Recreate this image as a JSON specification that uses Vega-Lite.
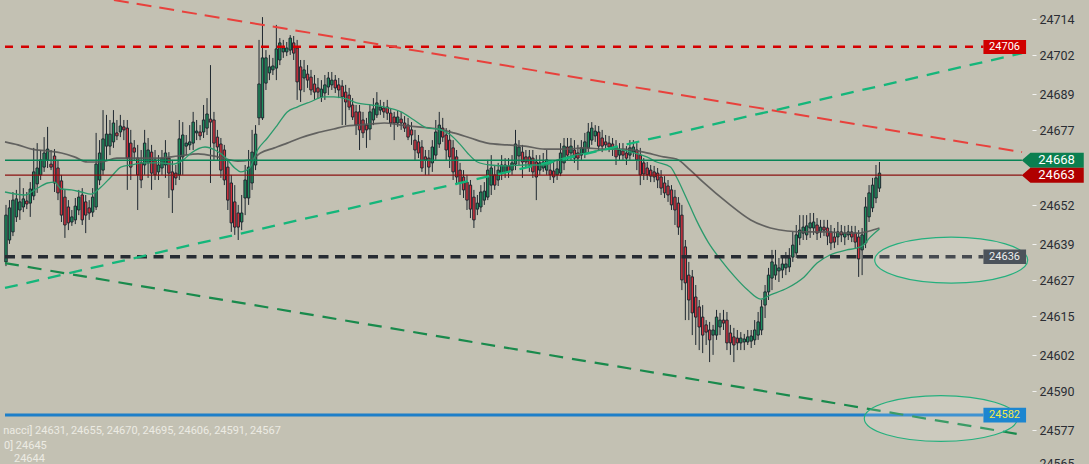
{
"$schema": "https://vega.github.io/schema/vega-lite/v6.json",
"width": 1032, "height": 464,
"autosize": {"type": "none"},
"padding": {"left": 0, "top": 0, "right": 57, "bottom": 0},
"background": "#c3c1b3",
"config": {"view": {"stroke": null}, "font": "Roboto"},
"resolve": {"axis": {"x": "independent", "y": "independent"}},
"datasets": {
"candles": [
{"i":1,"o":24633.2,"h":24652.2,"l":24631.8,"c":24648.8},
{"i":2,"o":24640.5,"h":24653.8,"l":24639.2,"c":24651.2},
{"i":3,"o":24643.2,"h":24656.5,"l":24641.8,"c":24653.8},
{"i":4,"o":24648.2,"h":24657.2,"l":24646.5,"c":24654.2},
{"i":5,"o":24650.5,"h":24661.2,"l":24647.2,"c":24653.2},
{"i":6,"o":24651.5,"h":24657.8,"l":24649.8,"c":24654.2},
{"i":7,"o":24653.5,"h":24656.5,"l":24650.8,"c":24652.5},
{"i":8,"o":24652.8,"h":24659.8,"l":24648.2,"c":24657.5},
{"i":9,"o":24655.2,"h":24671.2,"l":24653.8,"c":24663.2},
{"i":10,"o":24659.2,"h":24672.8,"l":24656.2,"c":24664.5},
{"i":11,"o":24662.2,"h":24670.5,"l":24660.5,"c":24667.2},
{"i":12,"o":24664.8,"h":24674.8,"l":24663.2,"c":24669.5},
{"i":13,"o":24667.2,"h":24678.2,"l":24664.5,"c":24670.8},
{"i":14,"o":24665.8,"h":24670.5,"l":24663.8,"c":24664.8},
{"i":15,"o":24668.5,"h":24670.8,"l":24656.5,"c":24659.5},
{"i":16,"o":24664.5,"h":24667.2,"l":24653.8,"c":24656.2},
{"i":17,"o":24660.2,"h":24662.2,"l":24646.5,"c":24648.8},
{"i":18,"o":24654.8,"h":24657.2,"l":24641.2,"c":24645.5},
{"i":19,"o":24651.5,"h":24653.8,"l":24643.8,"c":24646.2},
{"i":20,"o":24646.5,"h":24650.5,"l":24645.2,"c":24648.2},
{"i":21,"o":24647.2,"h":24654.5,"l":24645.8,"c":24651.8},
{"i":22,"o":24650.5,"h":24657.2,"l":24648.8,"c":24654.8},
{"i":23,"o":24655.5,"h":24657.8,"l":24645.5,"c":24647.2},
{"i":24,"o":24653.2,"h":24655.5,"l":24642.8,"c":24648.8},
{"i":25,"o":24651.2,"h":24653.8,"l":24647.2,"c":24649.5},
{"i":26,"o":24649.8,"h":24657.8,"l":24648.2,"c":24654.8},
{"i":27,"o":24651.5,"h":24676.2,"l":24650.5,"c":24665.8},
{"i":28,"o":24660.5,"h":24673.8,"l":24658.8,"c":24669.5},
{"i":29,"o":24663.8,"h":24683.8,"l":24662.2,"c":24674.2},
{"i":30,"o":24671.8,"h":24682.2,"l":24667.2,"c":24675.8},
{"i":31,"o":24671.8,"h":24680.5,"l":24668.8,"c":24675.8},
{"i":32,"o":24673.2,"h":24683.8,"l":24671.2,"c":24679.5},
{"i":33,"o":24676.2,"h":24680.5,"l":24673.8,"c":24675.2},
{"i":34,"o":24676.5,"h":24682.2,"l":24674.8,"c":24678.5},
{"i":35,"o":24678.2,"h":24680.5,"l":24673.8,"c":24677.2},
{"i":36,"o":24677.8,"h":24680.5,"l":24657.2,"c":24667.8},
{"i":37,"o":24672.8,"h":24677.2,"l":24660.5,"c":24664.8},
{"i":38,"o":24671.2,"h":24673.8,"l":24667.2,"c":24669.8},
{"i":39,"o":24667.8,"h":24672.2,"l":24650.5,"c":24662.2},
{"i":40,"o":24666.2,"h":24670.5,"l":24657.8,"c":24660.5},
{"i":41,"o":24665.5,"h":24677.2,"l":24662.2,"c":24672.8},
{"i":42,"o":24666.2,"h":24674.5,"l":24661.2,"c":24670.5},
{"i":43,"o":24669.8,"h":24672.2,"l":24657.2,"c":24662.8},
{"i":44,"o":24667.2,"h":24670.5,"l":24660.5,"c":24662.2},
{"i":45,"o":24663.2,"h":24668.8,"l":24660.5,"c":24665.5},
{"i":46,"o":24664.5,"h":24670.5,"l":24662.2,"c":24667.8},
{"i":47,"o":24665.5,"h":24673.8,"l":24661.2,"c":24669.5},
{"i":48,"o":24667.8,"h":24669.8,"l":24654.5,"c":24662.8},
{"i":49,"o":24663.2,"h":24667.2,"l":24649.5,"c":24657.2},
{"i":50,"o":24662.8,"h":24665.5,"l":24658.8,"c":24661.2},
{"i":51,"o":24662.2,"h":24680.5,"l":24660.5,"c":24674.2},
{"i":52,"o":24668.2,"h":24679.8,"l":24662.2,"c":24675.5},
{"i":53,"o":24671.8,"h":24675.5,"l":24668.8,"c":24672.8},
{"i":54,"o":24672.2,"h":24678.8,"l":24670.5,"c":24673.2},
{"i":55,"o":24672.8,"h":24683.2,"l":24670.5,"c":24679.8},
{"i":56,"o":24676.2,"h":24680.5,"l":24673.8,"c":24676.8},
{"i":57,"o":24676.5,"h":24678.8,"l":24673.8,"c":24675.2},
{"i":58,"o":24676.5,"h":24685.5,"l":24674.5,"c":24680.5},
{"i":59,"o":24677.8,"h":24687.8,"l":24675.5,"c":24682.5},
{"i":60,"o":24680.8,"h":24698.8,"l":24659.5,"c":24679.8},
{"i":61,"o":24680.5,"h":24683.2,"l":24667.2,"c":24672.8},
{"i":62,"o":24674.8,"h":24677.2,"l":24667.2,"c":24671.5},
{"i":63,"o":24672.5,"h":24674.5,"l":24661.2,"c":24663.8},
{"i":64,"o":24670.5,"h":24672.2,"l":24658.8,"c":24660.5},
{"i":65,"o":24664.8,"h":24667.2,"l":24650.5,"c":24653.8},
{"i":66,"o":24659.5,"h":24662.2,"l":24643.2,"c":24646.2},
{"i":67,"o":24653.2,"h":24658.8,"l":24642.2,"c":24644.8},
{"i":68,"o":24649.5,"h":24652.2,"l":24640.5,"c":24644.8},
{"i":69,"o":24646.5,"h":24655.5,"l":24643.8,"c":24649.5},
{"i":70,"o":24654.5,"h":24665.5,"l":24648.8,"c":24660.5},
{"i":71,"o":24654.5,"h":24670.5,"l":24652.2,"c":24664.8},
{"i":72,"o":24659.5,"h":24677.2,"l":24657.2,"c":24669.8},
{"i":73,"o":24665.5,"h":24678.8,"l":24663.8,"c":24675.8},
{"i":74,"o":24681.2,"h":24707.2,"l":24678.8,"c":24692.5},
{"i":75,"o":24681.2,"h":24714.8,"l":24680.5,"c":24701.2},
{"i":76,"o":24692.8,"h":24703.8,"l":24690.5,"c":24701.2},
{"i":77,"o":24696.2,"h":24702.2,"l":24693.8,"c":24698.2},
{"i":78,"o":24697.2,"h":24701.2,"l":24695.5,"c":24698.5},
{"i":79,"o":24697.8,"h":24712.2,"l":24693.8,"c":24704.2},
{"i":80,"o":24700.5,"h":24707.8,"l":24698.8,"c":24706.2},
{"i":81,"o":24703.2,"h":24707.2,"l":24701.2,"c":24704.5},
{"i":82,"o":24703.2,"h":24706.5,"l":24701.8,"c":24704.5},
{"i":83,"o":24703.8,"h":24708.8,"l":24702.2,"c":24707.8},
{"i":84,"o":24706.2,"h":24708.5,"l":24700.5,"c":24702.8},
{"i":85,"o":24704.5,"h":24707.2,"l":24687.2,"c":24693.2},
{"i":86,"o":24698.2,"h":24700.5,"l":24686.5,"c":24690.5},
{"i":87,"o":24694.5,"h":24700.5,"l":24689.8,"c":24697.2},
{"i":88,"o":24695.8,"h":24698.8,"l":24691.2,"c":24693.8},
{"i":89,"o":24694.8,"h":24697.2,"l":24688.8,"c":24690.5},
{"i":90,"o":24692.5,"h":24695.5,"l":24687.2,"c":24689.8},
{"i":91,"o":24691.2,"h":24694.5,"l":24687.5,"c":24689.8},
{"i":92,"o":24688.2,"h":24693.8,"l":24686.5,"c":24690.8},
{"i":93,"o":24689.5,"h":24695.5,"l":24687.2,"c":24692.2},
{"i":94,"o":24691.5,"h":24696.5,"l":24688.8,"c":24694.5},
{"i":95,"o":24692.2,"h":24696.5,"l":24690.5,"c":24693.8},
{"i":96,"o":24693.8,"h":24695.5,"l":24689.5,"c":24691.2},
{"i":97,"o":24692.2,"h":24694.5,"l":24687.8,"c":24690.5},
{"i":98,"o":24691.8,"h":24693.8,"l":24678.8,"c":24688.2},
{"i":99,"o":24689.8,"h":24692.2,"l":24678.8,"c":24686.5},
{"i":100,"o":24688.8,"h":24691.2,"l":24683.8,"c":24684.8},
{"i":101,"o":24685.5,"h":24687.8,"l":24680.5,"c":24681.5},
{"i":102,"o":24683.2,"h":24685.5,"l":24675.5,"c":24678.8},
{"i":103,"o":24683.2,"h":24685.5,"l":24670.5,"c":24677.2},
{"i":104,"o":24680.5,"h":24683.2,"l":24674.5,"c":24676.2},
{"i":105,"o":24678.8,"h":24681.2,"l":24671.2,"c":24677.2},
{"i":106,"o":24677.5,"h":24685.5,"l":24673.8,"c":24683.2},
{"i":107,"o":24680.5,"h":24687.8,"l":24678.8,"c":24684.2},
{"i":108,"o":24682.2,"h":24689.8,"l":24681.2,"c":24686.2},
{"i":109,"o":24683.8,"h":24687.2,"l":24682.2,"c":24684.8},
{"i":110,"o":24684.5,"h":24686.5,"l":24681.2,"c":24683.2},
{"i":111,"o":24684.8,"h":24687.2,"l":24680.5,"c":24682.8},
{"i":112,"o":24682.8,"h":24684.5,"l":24678.2,"c":24679.5},
{"i":113,"o":24681.5,"h":24683.2,"l":24673.8,"c":24679.5},
{"i":114,"o":24679.5,"h":24683.8,"l":24678.2,"c":24681.5},
{"i":115,"o":24680.8,"h":24683.2,"l":24677.2,"c":24679.5},
{"i":116,"o":24679.5,"h":24681.8,"l":24676.5,"c":24677.8},
{"i":117,"o":24678.8,"h":24681.2,"l":24673.8,"c":24674.8},
{"i":118,"o":24677.2,"h":24679.8,"l":24672.2,"c":24675.5},
{"i":119,"o":24673.8,"h":24677.2,"l":24667.2,"c":24670.5},
{"i":120,"o":24673.2,"h":24675.5,"l":24667.8,"c":24669.5},
{"i":121,"o":24671.5,"h":24673.8,"l":24663.2,"c":24664.5},
{"i":122,"o":24668.2,"h":24670.5,"l":24662.2,"c":24667.2},
{"i":123,"o":24667.8,"h":24670.5,"l":24662.2,"c":24664.8},
{"i":124,"o":24666.2,"h":24673.8,"l":24663.2,"c":24671.5},
{"i":125,"o":24668.8,"h":24680.5,"l":24667.2,"c":24676.5},
{"i":126,"o":24672.5,"h":24683.2,"l":24671.2,"c":24678.8},
{"i":127,"o":24677.8,"h":24681.2,"l":24673.2,"c":24674.8},
{"i":128,"o":24675.5,"h":24677.8,"l":24667.2,"c":24670.5},
{"i":129,"o":24673.8,"h":24677.2,"l":24664.5,"c":24668.2},
{"i":130,"o":24671.2,"h":24673.8,"l":24660.5,"c":24663.2},
{"i":131,"o":24668.2,"h":24670.5,"l":24658.8,"c":24661.5},
{"i":132,"o":24663.8,"h":24666.2,"l":24655.5,"c":24659.5},
{"i":133,"o":24661.5,"h":24663.8,"l":24654.5,"c":24657.2},
{"i":134,"o":24659.8,"h":24662.2,"l":24650.5,"c":24653.8},
{"i":135,"o":24658.8,"h":24660.5,"l":24647.8,"c":24650.8},
{"i":136,"o":24654.8,"h":24657.2,"l":24644.5,"c":24647.2},
{"i":137,"o":24650.8,"h":24655.5,"l":24648.8,"c":24652.8},
{"i":138,"o":24651.5,"h":24658.8,"l":24649.8,"c":24656.5},
{"i":139,"o":24653.8,"h":24659.8,"l":24652.2,"c":24656.8},
{"i":140,"o":24654.8,"h":24667.2,"l":24653.8,"c":24663.8},
{"i":141,"o":24658.8,"h":24668.8,"l":24655.5,"c":24664.5},
{"i":142,"o":24662.2,"h":24665.5,"l":24657.2,"c":24658.8},
{"i":143,"o":24660.5,"h":24666.2,"l":24658.5,"c":24663.8},
{"i":144,"o":24662.8,"h":24668.8,"l":24660.5,"c":24665.5},
{"i":145,"o":24663.2,"h":24667.8,"l":24661.2,"c":24665.5},
{"i":146,"o":24665.2,"h":24667.8,"l":24661.2,"c":24663.2},
{"i":147,"o":24663.8,"h":24668.8,"l":24662.2,"c":24666.2},
{"i":148,"o":24665.8,"h":24677.2,"l":24663.8,"c":24672.5},
{"i":149,"o":24668.5,"h":24673.8,"l":24665.5,"c":24671.5},
{"i":150,"o":24669.8,"h":24672.2,"l":24661.2,"c":24666.5},
{"i":151,"o":24668.2,"h":24670.5,"l":24664.5,"c":24666.5},
{"i":152,"o":24668.2,"h":24670.5,"l":24663.2,"c":24665.5},
{"i":153,"o":24667.8,"h":24670.5,"l":24661.2,"c":24663.2},
{"i":154,"o":24666.5,"h":24668.8,"l":24653.8,"c":24661.5},
{"i":155,"o":24663.8,"h":24668.8,"l":24662.2,"c":24666.2},
{"i":156,"o":24664.5,"h":24669.5,"l":24663.2,"c":24666.5},
{"i":157,"o":24663.8,"h":24670.5,"l":24662.2,"c":24667.2},
{"i":158,"o":24663.8,"h":24666.2,"l":24660.5,"c":24662.2},
{"i":159,"o":24663.5,"h":24666.5,"l":24659.5,"c":24661.5},
{"i":160,"o":24662.2,"h":24667.2,"l":24660.5,"c":24664.2},
{"i":161,"o":24662.8,"h":24672.8,"l":24661.8,"c":24669.5},
{"i":162,"o":24666.2,"h":24674.5,"l":24663.8,"c":24671.8},
{"i":163,"o":24671.5,"h":24674.5,"l":24667.2,"c":24668.8},
{"i":164,"o":24669.5,"h":24674.5,"l":24667.2,"c":24671.8},
{"i":165,"o":24670.5,"h":24673.8,"l":24666.2,"c":24667.8},
{"i":166,"o":24669.5,"h":24672.2,"l":24663.8,"c":24667.8},
{"i":167,"o":24668.8,"h":24673.8,"l":24667.2,"c":24671.2},
{"i":168,"o":24669.5,"h":24676.2,"l":24667.8,"c":24673.2},
{"i":169,"o":24671.2,"h":24679.5,"l":24669.8,"c":24676.5},
{"i":170,"o":24673.8,"h":24679.8,"l":24672.2,"c":24677.8},
{"i":171,"o":24675.2,"h":24678.8,"l":24673.2,"c":24676.8},
{"i":172,"o":24676.5,"h":24678.5,"l":24670.5,"c":24671.8},
{"i":173,"o":24674.5,"h":24677.2,"l":24669.8,"c":24671.8},
{"i":174,"o":24673.2,"h":24675.5,"l":24670.5,"c":24672.2},
{"i":175,"o":24672.8,"h":24675.2,"l":24669.8,"c":24671.5},
{"i":176,"o":24672.5,"h":24674.5,"l":24668.5,"c":24671.2},
{"i":177,"o":24671.5,"h":24673.8,"l":24665.5,"c":24668.2},
{"i":178,"o":24668.8,"h":24672.8,"l":24667.2,"c":24670.5},
{"i":179,"o":24670.2,"h":24672.8,"l":24667.2,"c":24668.8},
{"i":180,"o":24669.5,"h":24671.8,"l":24665.5,"c":24667.8},
{"i":181,"o":24668.8,"h":24673.8,"l":24667.2,"c":24671.2},
{"i":182,"o":24669.8,"h":24673.8,"l":24668.2,"c":24671.5},
{"i":183,"o":24670.5,"h":24672.8,"l":24663.8,"c":24667.2},
{"i":184,"o":24668.8,"h":24671.2,"l":24658.8,"c":24662.2},
{"i":185,"o":24666.2,"h":24667.8,"l":24660.5,"c":24662.5},
{"i":186,"o":24664.5,"h":24666.5,"l":24660.5,"c":24662.2},
{"i":187,"o":24663.8,"h":24665.5,"l":24659.8,"c":24661.8},
{"i":188,"o":24663.2,"h":24665.2,"l":24659.8,"c":24661.5},
{"i":189,"o":24662.8,"h":24664.5,"l":24657.8,"c":24660.5},
{"i":190,"o":24661.5,"h":24663.8,"l":24655.5,"c":24657.8},
{"i":191,"o":24659.5,"h":24661.8,"l":24654.5,"c":24656.2},
{"i":192,"o":24658.5,"h":24660.5,"l":24653.2,"c":24655.5},
{"i":193,"o":24657.2,"h":24658.8,"l":24650.5,"c":24652.2},
{"i":194,"o":24654.8,"h":24657.2,"l":24645.5,"c":24650.5},
{"i":195,"o":24652.8,"h":24654.8,"l":24642.2,"c":24644.8},
{"i":196,"o":24648.8,"h":24652.2,"l":24623.8,"c":24627.2},
{"i":197,"o":24638.2,"h":24640.5,"l":24613.8,"c":24626.2},
{"i":198,"o":24628.8,"h":24633.2,"l":24613.8,"c":24620.5},
{"i":199,"o":24628.2,"h":24630.5,"l":24608.8,"c":24616.2},
{"i":200,"o":24621.5,"h":24625.5,"l":24605.5,"c":24614.8},
{"i":201,"o":24618.2,"h":24620.5,"l":24603.8,"c":24611.5},
{"i":202,"o":24614.8,"h":24618.8,"l":24602.8,"c":24608.8},
{"i":203,"o":24612.2,"h":24613.8,"l":24605.5,"c":24609.8},
{"i":204,"o":24610.5,"h":24613.2,"l":24599.8,"c":24607.2},
{"i":205,"o":24608.8,"h":24612.2,"l":24602.2,"c":24610.5},
{"i":206,"o":24608.8,"h":24617.2,"l":24607.2,"c":24614.8},
{"i":207,"o":24611.5,"h":24616.2,"l":24608.8,"c":24613.8},
{"i":208,"o":24613.8,"h":24617.2,"l":24610.5,"c":24612.8},
{"i":209,"o":24613.8,"h":24616.5,"l":24603.8,"c":24606.2},
{"i":210,"o":24609.5,"h":24612.2,"l":24602.2,"c":24606.2},
{"i":211,"o":24608.2,"h":24611.2,"l":24599.8,"c":24605.5},
{"i":212,"o":24607.8,"h":24610.5,"l":24603.8,"c":24606.2},
{"i":213,"o":24606.2,"h":24609.8,"l":24603.8,"c":24607.8},
{"i":214,"o":24606.5,"h":24609.2,"l":24603.8,"c":24607.5},
{"i":215,"o":24606.5,"h":24610.5,"l":24605.5,"c":24608.2},
{"i":216,"o":24606.8,"h":24610.5,"l":24604.5,"c":24608.5},
{"i":217,"o":24607.2,"h":24613.8,"l":24605.5,"c":24610.5},
{"i":218,"o":24608.8,"h":24616.5,"l":24607.2,"c":24613.2},
{"i":219,"o":24610.5,"h":24620.5,"l":24608.8,"c":24618.2},
{"i":220,"o":24618.8,"h":24625.5,"l":24614.5,"c":24623.2},
{"i":221,"o":24623.2,"h":24631.2,"l":24620.5,"c":24628.8},
{"i":222,"o":24627.8,"h":24637.2,"l":24623.8,"c":24633.2},
{"i":223,"o":24628.8,"h":24637.2,"l":24627.2,"c":24632.2},
{"i":224,"o":24630.2,"h":24634.5,"l":24626.5,"c":24631.2},
{"i":225,"o":24630.5,"h":24635.5,"l":24627.8,"c":24632.5},
{"i":226,"o":24631.2,"h":24636.5,"l":24628.8,"c":24632.5},
{"i":227,"o":24631.5,"h":24637.8,"l":24629.8,"c":24634.5},
{"i":228,"o":24634.8,"h":24643.2,"l":24633.2,"c":24638.8},
{"i":229,"o":24636.2,"h":24645.5,"l":24634.5,"c":24642.2},
{"i":230,"o":24641.2,"h":24648.8,"l":24638.8,"c":24643.8},
{"i":231,"o":24642.8,"h":24648.8,"l":24640.5,"c":24644.8},
{"i":232,"o":24642.2,"h":24648.8,"l":24640.5,"c":24645.2},
{"i":233,"o":24644.5,"h":24649.5,"l":24641.2,"c":24646.2},
{"i":234,"o":24644.5,"h":24649.5,"l":24642.2,"c":24646.5},
{"i":235,"o":24645.5,"h":24647.8,"l":24640.5,"c":24642.8},
{"i":236,"o":24643.2,"h":24647.2,"l":24641.2,"c":24644.8},
{"i":237,"o":24644.8,"h":24647.2,"l":24641.8,"c":24643.8},
{"i":238,"o":24644.5,"h":24647.2,"l":24638.8,"c":24641.8},
{"i":239,"o":24643.2,"h":24645.5,"l":24637.2,"c":24639.5},
{"i":240,"o":24641.5,"h":24644.5,"l":24637.8,"c":24639.8},
{"i":241,"o":24641.5,"h":24646.5,"l":24638.8,"c":24643.2},
{"i":242,"o":24643.2,"h":24645.5,"l":24639.8,"c":24642.2},
{"i":243,"o":24641.5,"h":24645.2,"l":24638.8,"c":24642.8},
{"i":244,"o":24642.2,"h":24645.5,"l":24640.5,"c":24643.2},
{"i":245,"o":24643.2,"h":24645.2,"l":24639.8,"c":24641.5},
{"i":246,"o":24642.8,"h":24645.2,"l":24637.8,"c":24639.8},
{"i":247,"o":24641.5,"h":24643.8,"l":24628.2,"c":24634.2},
{"i":248,"o":24637.2,"h":24644.5,"l":24628.8,"c":24642.2},
{"i":249,"o":24639.5,"h":24654.8,"l":24637.8,"c":24651.5},
{"i":250,"o":24648.2,"h":24658.8,"l":24646.5,"c":24656.2},
{"i":251,"o":24651.2,"h":24661.2,"l":24649.8,"c":24658.8},
{"i":252,"o":24654.5,"h":24665.5,"l":24652.8,"c":24661.2},
{"i":253,"o":24657.8,"h":24666.5,"l":24656.5,"c":24662.8}
],
"ma1": [
{"i":0.71,"p":24656.5},{"i":6.43,"p":24655.5},{"i":9.29,"p":24657.2},{"i":13.0,"p":24659.5},{"i":15.0,"p":24659.8},{"i":17.0,"p":24657.5},{"i":19.86,"p":24657.2},{"i":22.71,"p":24656.5},{"i":25.57,"p":24655.8},{"i":28.43,"p":24658.2},{"i":31.29,"p":24661.5},{"i":34.14,"p":24664.8},{"i":37.0,"p":24665.5},{"i":40.71,"p":24666.2},{"i":45.57,"p":24666.2},{"i":49.29,"p":24665.8},{"i":52.14,"p":24667.2},{"i":54.43,"p":24669.5},{"i":58.43,"p":24671.5},{"i":61.29,"p":24670.5},{"i":64.14,"p":24668.2},{"i":67.0,"p":24664.5},{"i":68.71,"p":24663.2},{"i":71.29,"p":24664.5},{"i":73.57,"p":24670.5},{"i":76.43,"p":24674.5},{"i":79.29,"p":24678.8},{"i":82.14,"p":24683.2},{"i":85.0,"p":24684.8},{"i":88.71,"p":24686.5},{"i":92.71,"p":24688.2},{"i":95.57,"p":24688.2},{"i":99.29,"p":24687.5},{"i":102.14,"p":24686.2},{"i":106.43,"p":24685.5},{"i":110.14,"p":24684.8},{"i":115.0,"p":24683.2},{"i":118.71,"p":24680.5},{"i":122.71,"p":24677.8},{"i":125.57,"p":24677.5},{"i":129.29,"p":24675.5},{"i":132.14,"p":24672.2},{"i":134.14,"p":24669.5},{"i":137.0,"p":24666.5},{"i":140.71,"p":24665.5},{"i":145.57,"p":24665.2},{"i":150.71,"p":24665.5},{"i":156.43,"p":24665.5},{"i":160.14,"p":24667.2},{"i":165.0,"p":24668.8},{"i":169.86,"p":24669.8},{"i":172.71,"p":24670.5},{"i":177.29,"p":24670.8},{"i":182.14,"p":24669.5},{"i":185.86,"p":24668.2},{"i":188.71,"p":24666.5},{"i":192.71,"p":24664.8},{"i":194.43,"p":24661.5},{"i":197.29,"p":24654.5},{"i":200.14,"p":24647.2},{"i":203.57,"p":24639.8},{"i":207.29,"p":24633.8},{"i":211.29,"p":24628.2},{"i":215.0,"p":24623.8},{"i":218.71,"p":24620.8},{"i":221.57,"p":24622.2},{"i":226.43,"p":24624.5},{"i":231.29,"p":24628.2},{"i":235.0,"p":24632.8},{"i":238.71,"p":24635.5},{"i":243.57,"p":24637.2},{"i":246.43,"p":24637.8},{"i":248.43,"p":24638.8},{"i":250.14,"p":24641.2},{"i":253.0,"p":24644.2}
],
"ma2": [
{"i":0.71,"p":24673.2},{"i":4.43,"p":24672.2},{"i":8.43,"p":24670.8},{"i":13.0,"p":24670.2},{"i":17.0,"p":24669.5},{"i":20.71,"p":24668.2},{"i":24.43,"p":24666.5},{"i":28.43,"p":24666.5},{"i":33.0,"p":24667.8},{"i":38.71,"p":24667.8},{"i":44.43,"p":24667.8},{"i":50.71,"p":24668.5},{"i":56.43,"p":24669.2},{"i":62.14,"p":24668.2},{"i":67.86,"p":24666.8},{"i":71.57,"p":24667.2},{"i":74.43,"p":24669.5},{"i":78.43,"p":24671.2},{"i":82.14,"p":24672.8},{"i":85.86,"p":24674.5},{"i":90.71,"p":24676.2},{"i":95.57,"p":24677.5},{"i":99.29,"p":24678.5},{"i":102.14,"p":24678.8},{"i":106.43,"p":24679.2},{"i":110.14,"p":24679.5},{"i":115.0,"p":24678.8},{"i":119.86,"p":24678.2},{"i":125.57,"p":24677.5},{"i":130.14,"p":24676.2},{"i":135.0,"p":24674.5},{"i":139.86,"p":24672.8},{"i":145.57,"p":24672.2},{"i":150.71,"p":24671.8},{"i":156.43,"p":24670.8},{"i":162.14,"p":24670.8},{"i":167.86,"p":24671.2},{"i":173.57,"p":24670.8},{"i":179.29,"p":24670.8},{"i":185.0,"p":24669.8},{"i":190.71,"p":24668.2},{"i":194.43,"p":24667.5},{"i":198.43,"p":24663.8},{"i":202.14,"p":24659.8},{"i":209.29,"p":24652.8},{"i":215.86,"p":24647.2},{"i":221.57,"p":24644.5},{"i":226.43,"p":24643.5},{"i":232.14,"p":24643.2},{"i":237.86,"p":24643.2},{"i":243.57,"p":24642.8},{"i":247.29,"p":24642.8},{"i":250.14,"p":24643.5},{"i":253.0,"p":24644.5}
]
},
"layer": [
{"data": {"name": "candles"},
 "mark": {"type": "rule", "color": "#1f2830", "strokeWidth": 1},
 "encoding": {
  "x": {"field": "i", "type": "quantitative", "scale": {"domain": [0.714, 295.57], "nice": false, "zero": false}, "axis": null},
  "y": {"field": "l", "type": "quantitative", "title": null, "scale": {"domain": [24565.83, 24720.5], "nice": false, "zero": false},
        "axis": {"orient": "right", "values": [24565.9, 24577, 24590, 24602, 24615, 24627, 24639, 24652, 24677, 24689, 24702, 24714], "format": "d",
                 "labelExpr": "datum.value < 24566 ? '24565' : datum.label", "grid": false, "domain": false, "ticks": true,
                 "tickColor": "#f2f2f0", "tickSize": 4, "tickWidth": 1, "labelPadding": 3, "labelColor": "#2a2d33",
                 "labelFont": "Roboto", "labelFontSize": 12.5, "labelBaseline": "middle", "labelFlush": false, "labelOverlap": false, "title": null}},
  "y2": {"field": "h"}
 }},
{"data": {"name": "candles"},
 "mark": {"type": "bar", "width": 2.4, "stroke": "#1f2830", "strokeWidth": 1},
 "encoding": {
  "x": {"field": "i", "type": "quantitative", "scale": {"domain": [0.714, 295.57], "nice": false, "zero": false}, "axis": null},
  "y": {"field": "o", "type": "quantitative", "title": null, "scale": {"domain": [24565.83, 24720.5], "nice": false, "zero": false}, "axis": null},
  "y2": {"field": "c"},
  "fill": {"condition": {"test": "datum.c >= datum.o", "value": "#1e8f5e"}, "value": "#d9323e"}
 }},
{"data": {"name": "ma2"},
 "mark": {"type": "line", "color": "#585856", "strokeWidth": 1.7, "opacity": 0.9, "interpolate": "monotone"},
 "encoding": {
  "x": {"field": "i", "type": "quantitative", "scale": {"domain": [0.714, 295.57], "nice": false, "zero": false}, "axis": null},
  "y": {"field": "p", "type": "quantitative", "title": null, "scale": {"domain": [24565.83, 24720.5], "nice": false, "zero": false}, "axis": null}
 }},
{"data": {"name": "ma1"},
 "mark": {"type": "line", "color": "#2a9a6c", "strokeWidth": 1.3, "interpolate": "monotone"},
 "encoding": {
  "x": {"field": "i", "type": "quantitative", "scale": {"domain": [0.714, 295.57], "nice": false, "zero": false}, "axis": null},
  "y": {"field": "p", "type": "quantitative", "title": null, "scale": {"domain": [24565.83, 24720.5], "nice": false, "zero": false}, "axis": null}
 }},
{"data": {"values": [{"i": 0.714, "p": 24704.9}, {"i": 283.0, "p": 24704.9}]},
 "mark": {"type": "line", "color": "#d40000", "strokeWidth": 2.4, "strokeDash": [8, 8]},
 "encoding": {
  "x": {"field": "i", "type": "quantitative", "scale": {"domain": [0.714, 295.57], "nice": false, "zero": false}, "axis": null},
  "y": {"field": "p", "type": "quantitative", "title": null, "scale": {"domain": [24565.83, 24720.5], "nice": false, "zero": false}, "axis": null}
 }},
{"data": {"values": [{"i": 0.714, "p": 24667.1}, {"i": 294.1, "p": 24667.1}]},
 "mark": {"type": "line", "color": "#098456", "strokeWidth": 1.5},
 "encoding": {
  "x": {"field": "i", "type": "quantitative", "scale": {"domain": [0.714, 295.57], "nice": false, "zero": false}, "axis": null},
  "y": {"field": "p", "type": "quantitative", "title": null, "scale": {"domain": [24565.83, 24720.5], "nice": false, "zero": false}, "axis": null}
 }},
{"data": {"values": [{"i": 0.714, "p": 24662.1}, {"i": 294.1, "p": 24662.1}]},
 "mark": {"type": "line", "color": "#8b1010", "strokeWidth": 1.2},
 "encoding": {
  "x": {"field": "i", "type": "quantitative", "scale": {"domain": [0.714, 295.57], "nice": false, "zero": false}, "axis": null},
  "y": {"field": "p", "type": "quantitative", "title": null, "scale": {"domain": [24565.83, 24720.5], "nice": false, "zero": false}, "axis": null}
 }},
{"data": {"values": [{"i": 0.714, "p": 24634.9}, {"i": 283.0, "p": 24634.9}]},
 "mark": {"type": "line", "color": "#272c33", "strokeWidth": 3.5, "strokeDash": [10, 6.5]},
 "encoding": {
  "x": {"field": "i", "type": "quantitative", "scale": {"domain": [0.714, 295.57], "nice": false, "zero": false}, "axis": null},
  "y": {"field": "p", "type": "quantitative", "title": null, "scale": {"domain": [24565.83, 24720.5], "nice": false, "zero": false}, "axis": null}
 }},
{"data": {"values": [{"i": 0.714, "p": 24582.2}, {"i": 283.0, "p": 24582.2}]},
 "mark": {"type": "line", "color": "#1d7fc9", "strokeWidth": 3},
 "encoding": {
  "x": {"field": "i", "type": "quantitative", "scale": {"domain": [0.714, 295.57], "nice": false, "zero": false}, "axis": null},
  "y": {"field": "p", "type": "quantitative", "title": null, "scale": {"domain": [24565.83, 24720.5], "nice": false, "zero": false}, "axis": null}
 }},
{"data": {"values": [{"i": 32.14, "p": 24720.5}, {"i": 294.14, "p": 24669.8}]},
 "mark": {"type": "line", "color": "#e8413c", "strokeWidth": 2, "strokeDash": [15, 8]},
 "encoding": {
  "x": {"field": "i", "type": "quantitative", "scale": {"domain": [0.714, 295.57], "nice": false, "zero": false}, "axis": null},
  "y": {"field": "p", "type": "quantitative", "title": null, "scale": {"domain": [24565.83, 24720.5], "nice": false, "zero": false}, "axis": null}
 }},
{"data": {"values": [{"i": 0.714, "p": 24624.5}, {"i": 294.14, "p": 24702.8}]},
 "mark": {"type": "line", "color": "#14b67a", "strokeWidth": 2.3, "strokeDash": [13, 9]},
 "encoding": {
  "x": {"field": "i", "type": "quantitative", "scale": {"domain": [0.714, 295.57], "nice": false, "zero": false}, "axis": null},
  "y": {"field": "p", "type": "quantitative", "title": null, "scale": {"domain": [24565.83, 24720.5], "nice": false, "zero": false}, "axis": null}
 }},
{"data": {"values": [{"i": 0.714, "p": 24632.8}, {"i": 293.0, "p": 24575.8}]},
 "mark": {"type": "line", "color": "#198a4c", "strokeWidth": 2.2, "strokeDash": [14, 9]},
 "encoding": {
  "x": {"field": "i", "type": "quantitative", "scale": {"domain": [0.714, 295.57], "nice": false, "zero": false}, "axis": null},
  "y": {"field": "p", "type": "quantitative", "title": null, "scale": {"domain": [24565.83, 24720.5], "nice": false, "zero": false}, "axis": null}
 }},
{"data": {"values": [{"i": 273.7, "p": 24633.8}, {"i": 270.7, "p": 24581.0}]},
 "mark": {"type": "point", "shape": "M -1 0 A 1 0.3 0 1 0 1 0 A 1 0.3 0 1 0 -1 0 Z", "size": 23409, "filled": true,
          "fill": "#ffffff", "fillOpacity": 0.15, "stroke": "#25b07e", "strokeWidth": 1.2, "strokeOpacity": 1, "opacity": 1},
 "encoding": {
  "x": {"field": "i", "type": "quantitative", "scale": {"domain": [0.714, 295.57], "nice": false, "zero": false}, "axis": null},
  "y": {"field": "p", "type": "quantitative", "title": null, "scale": {"domain": [24565.83, 24720.5], "nice": false, "zero": false}, "axis": null}
 }},
{"data": {"values": [{"i0": 283.0, "i1": 295.3, "lo": 24702.5, "hi": 24707.2}]},
 "mark": {"type": "rect", "color": "#d00000"},
 "encoding": {
  "x": {"field": "i0", "type": "quantitative", "scale": {"domain": [0.714, 295.57], "nice": false, "zero": false}, "axis": null},
  "x2": {"field": "i1"},
  "y": {"field": "lo", "type": "quantitative", "title": null, "scale": {"domain": [24565.83, 24720.5], "nice": false, "zero": false}, "axis": null},
  "y2": {"field": "hi"}
 }},
{"data": {"values": [{"i0": 283.0, "i1": 295.3, "lo": 24632.5, "hi": 24637.3}]},
 "mark": {"type": "rect", "color": "#4c535b"},
 "encoding": {
  "x": {"field": "i0", "type": "quantitative", "scale": {"domain": [0.714, 295.57], "nice": false, "zero": false}, "axis": null},
  "x2": {"field": "i1"},
  "y": {"field": "lo", "type": "quantitative", "title": null, "scale": {"domain": [24565.83, 24720.5], "nice": false, "zero": false}, "axis": null},
  "y2": {"field": "hi"}
 }},
{"data": {"values": [{"i0": 283.0, "i1": 295.3, "lo": 24579.7, "hi": 24584.6}]},
 "mark": {"type": "rect", "color": "#1c86d0"},
 "encoding": {
  "x": {"field": "i0", "type": "quantitative", "scale": {"domain": [0.714, 295.57], "nice": false, "zero": false}, "axis": null},
  "x2": {"field": "i1"},
  "y": {"field": "lo", "type": "quantitative", "title": null, "scale": {"domain": [24565.83, 24720.5], "nice": false, "zero": false}, "axis": null},
  "y2": {"field": "hi"}
 }},
{"data": {"values": [{"i": 303.0, "p": 24667.1}]},
 "mark": {"type": "point", "shape": "M -1 0 L -0.72 -0.242 L 1 -0.242 L 1 0.242 L -0.72 0.242 Z", "size": 3844, "filled": true, "color": "#0b7f50", "opacity": 1},
 "encoding": {
  "x": {"field": "i", "type": "quantitative", "scale": {"domain": [0.714, 295.57], "nice": false, "zero": false}, "axis": null},
  "y": {"field": "p", "type": "quantitative", "title": null, "scale": {"domain": [24565.83, 24720.5], "nice": false, "zero": false}, "axis": null}
 }},
{"data": {"values": [{"i": 303.0, "p": 24662.1}]},
 "mark": {"type": "point", "shape": "M -1 0 L -0.72 -0.242 L 1 -0.242 L 1 0.242 L -0.72 0.242 Z", "size": 3844, "filled": true, "color": "#b00000", "opacity": 1},
 "encoding": {
  "x": {"field": "i", "type": "quantitative", "scale": {"domain": [0.714, 295.57], "nice": false, "zero": false}, "axis": null},
  "y": {"field": "p", "type": "quantitative", "title": null, "scale": {"domain": [24565.83, 24720.5], "nice": false, "zero": false}, "axis": null}
 }},
{"data": {"values": [{"i": 289.1, "p": 24704.9, "t": "24706"}]},
 "mark": {"type": "text", "color": "#ffffff", "fontSize": 11, "font": "Roboto", "align": "center", "baseline": "middle"},
 "encoding": {
  "x": {"field": "i", "type": "quantitative", "scale": {"domain": [0.714, 295.57], "nice": false, "zero": false}, "axis": null},
  "y": {"field": "p", "type": "quantitative", "title": null, "scale": {"domain": [24565.83, 24720.5], "nice": false, "zero": false}, "axis": null},
  "text": {"field": "t"}
 }},
{"data": {"values": [{"i": 289.1, "p": 24634.9, "t": "24636"}]},
 "mark": {"type": "text", "color": "#eceeee", "fontSize": 11, "font": "Roboto", "align": "center", "baseline": "middle"},
 "encoding": {
  "x": {"field": "i", "type": "quantitative", "scale": {"domain": [0.714, 295.57], "nice": false, "zero": false}, "axis": null},
  "y": {"field": "p", "type": "quantitative", "title": null, "scale": {"domain": [24565.83, 24720.5], "nice": false, "zero": false}, "axis": null},
  "text": {"field": "t"}
 }},
{"data": {"values": [{"i": 289.1, "p": 24582.2, "t": "24582"}]},
 "mark": {"type": "text", "color": "#f3e84a", "fontSize": 11, "font": "Roboto", "align": "center", "baseline": "middle"},
 "encoding": {
  "x": {"field": "i", "type": "quantitative", "scale": {"domain": [0.714, 295.57], "nice": false, "zero": false}, "axis": null},
  "y": {"field": "p", "type": "quantitative", "title": null, "scale": {"domain": [24565.83, 24720.5], "nice": false, "zero": false}, "axis": null},
  "text": {"field": "t"}
 }},
{"data": {"values": [{"i": 304.1, "p": 24667.1, "t": "24668"}, {"i": 304.1, "p": 24662.1, "t": "24663"}]},
 "mark": {"type": "text", "color": "#ffffff", "fontSize": 13, "font": "Roboto", "align": "center", "baseline": "middle"},
 "encoding": {
  "x": {"field": "i", "type": "quantitative", "scale": {"domain": [0.714, 295.57], "nice": false, "zero": false}, "axis": null},
  "y": {"field": "p", "type": "quantitative", "title": null, "scale": {"domain": [24565.83, 24720.5], "nice": false, "zero": false}, "axis": null},
  "text": {"field": "t"}
 }},
{"data": {"values": [
  {"i": 0.2, "p": 24576.8, "t": "nacci] 24631, 24655, 24670, 24695, 24606, 24591, 24567"},
  {"i": 0.43, "p": 24571.9, "t": "0] 24645"},
  {"i": 3.3, "p": 24567.5, "t": "24644"}]},
 "mark": {"type": "text", "color": "#ecebe3", "fontSize": 11, "font": "Roboto", "align": "left", "baseline": "middle"},
 "encoding": {
  "x": {"field": "i", "type": "quantitative", "scale": {"domain": [0.714, 295.57], "nice": false, "zero": false}, "axis": null},
  "y": {"field": "p", "type": "quantitative", "title": null, "scale": {"domain": [24565.83, 24720.5], "nice": false, "zero": false}, "axis": null},
  "text": {"field": "t"}
 }}
]
}
